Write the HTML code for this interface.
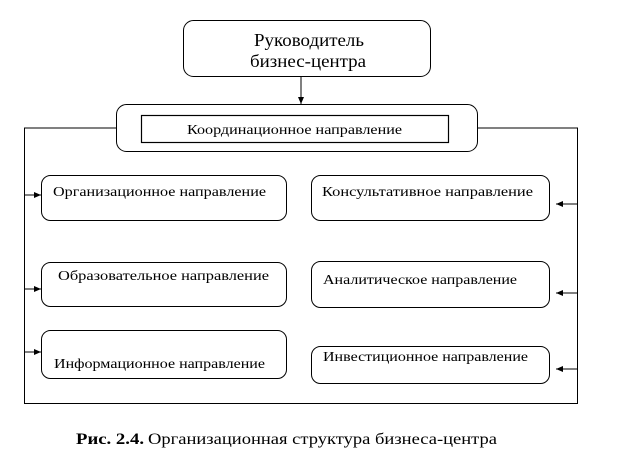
<!DOCTYPE html>
<html><head><meta charset="utf-8"><style>
body{margin:0;background:#fff;width:624px;height:471px;overflow:hidden}
svg text{font-family:"Liberation Serif",serif;fill:#000}
</style></head><body>
<svg width="624" height="471" viewBox="0 0 624 471" xmlns="http://www.w3.org/2000/svg">
<defs><marker id="a" markerWidth="8" markerHeight="8" refX="7" refY="4" orient="auto" markerUnits="userSpaceOnUse"><path d="M0,1 L7,4 L0,7 z" fill="#000"/></marker></defs>
<g fill="none" stroke="#000" stroke-width="1">
<rect x="183.5" y="20.5" width="247" height="56" rx="10"/>
<line x1="301" y1="77" x2="301" y2="104" marker-end="url(#a)"/>
<rect x="116.5" y="104.5" width="361" height="47" rx="10"/>
<rect x="141.5" y="115.5" width="307" height="27" stroke-width="1.2"/>
<polyline points="116,128 24.5,128 24.5,403.5 577.5,403.5 577.5,128 478,128"/>
<rect x="41.5" y="175.5" width="245" height="45" rx="9"/>
<rect x="41.5" y="262.5" width="245" height="44" rx="9"/>
<rect x="41.5" y="330.5" width="245" height="48" rx="9"/>
<rect x="311.5" y="175.5" width="238" height="45" rx="9"/>
<rect x="311.5" y="261.5" width="238" height="46" rx="9"/>
<rect x="311.5" y="346.5" width="238" height="37" rx="9"/>
<line x1="24" y1="195" x2="41" y2="195" marker-end="url(#a)"/>
<line x1="24" y1="289" x2="41" y2="289" marker-end="url(#a)"/>
<line x1="24" y1="352" x2="41" y2="352" marker-end="url(#a)"/>
<line x1="577" y1="204" x2="556" y2="204" marker-end="url(#a)"/>
<line x1="577" y1="293" x2="556" y2="293" marker-end="url(#a)"/>
<line x1="577" y1="369" x2="556" y2="369" marker-end="url(#a)"/>
</g>
<text x="254" y="46" font-size="18" textLength="110" lengthAdjust="spacingAndGlyphs">Руководитель</text>
<text x="250" y="67" font-size="18" textLength="116" lengthAdjust="spacingAndGlyphs">бизнес-центра</text>
<text x="187" y="134" font-size="14" textLength="215" lengthAdjust="spacingAndGlyphs">Координационное направление</text>
<text x="53" y="196" font-size="14" textLength="213" lengthAdjust="spacingAndGlyphs">Организационное направление</text>
<text x="58" y="280" font-size="14" textLength="211" lengthAdjust="spacingAndGlyphs">Образовательное  направление</text>
<text x="54" y="368" font-size="14" textLength="211" lengthAdjust="spacingAndGlyphs">Информационное направление</text>
<text x="322" y="196" font-size="14" textLength="211" lengthAdjust="spacingAndGlyphs">Консультативное направление</text>
<text x="323" y="284" font-size="14" textLength="194" lengthAdjust="spacingAndGlyphs">Аналитическое направление</text>
<text x="323" y="361" font-size="14" textLength="205" lengthAdjust="spacingAndGlyphs">Инвестиционное направление</text>
<text x="76" y="444" font-size="16" font-weight="bold" textLength="68" lengthAdjust="spacingAndGlyphs">Рис. 2.4.</text>
<text x="148" y="444" font-size="16" textLength="349" lengthAdjust="spacingAndGlyphs">Организационная структура бизнеса-центра</text>
</svg>
</body></html>
